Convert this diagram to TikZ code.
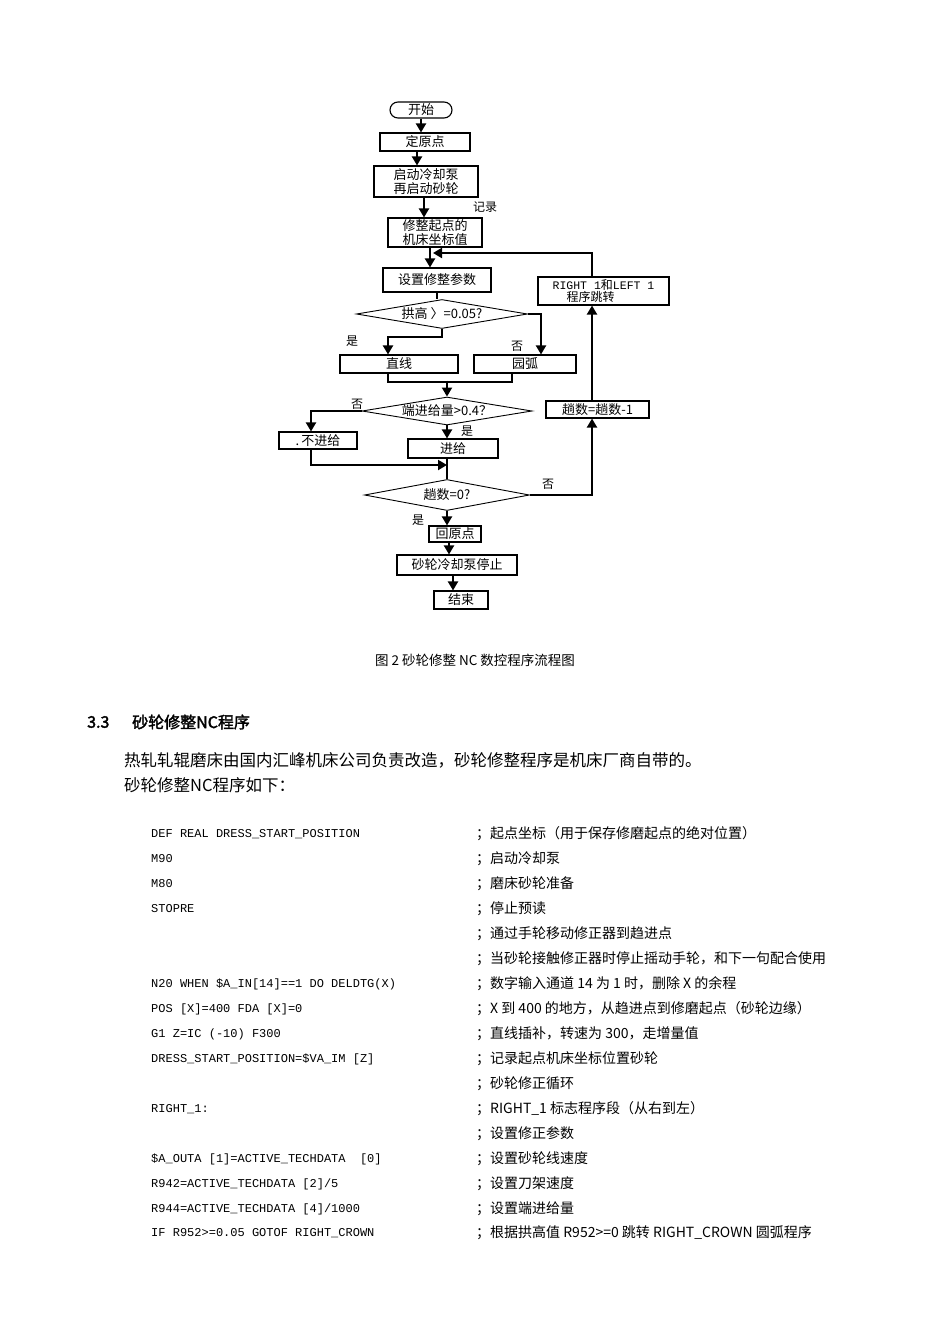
\documentclass[tikz,border=0pt]{standalone}
\usepackage{fontspec}
\setmainfont{Liberation Serif}
\setmonofont{Liberation Mono}
\newfontfamily\cjk{Noto Sans CJK SC}
\newfontfamily\cjkbold[FakeBold=2]{Noto Sans CJK SC}
\usetikzlibrary{arrows.meta,shapes.geometric}

\begin{document}
\begin{tikzpicture}[
    x=1pt, y=-1pt,
    box/.style={draw, line width=1.1pt, inner sep=0pt, align=center, font=\cjk\fontsize{13}{13.5}\selectfont},
    dia/.style={draw, diamond, aspect=6, inner sep=0pt, line width=0.9pt, font=\cjk\fontsize{13}{13}\selectfont},
    flow/.style={line width=2pt, -{Triangle[length=9pt,width=10pt]}},
    link/.style={line width=2pt},
    yn/.style={font=\cjk\fontsize{12}{12}\selectfont},
    code/.style={anchor=west, inner sep=0pt, font=\ttfamily\fontsize{12}{12}\selectfont},
    note/.style={anchor=west, inner sep=0pt, font=\cjk\fontsize{14}{14}\selectfont}
  ]
  \useasboundingbox[fill=white] (0,0) rectangle (950,1344);

  % Flow chart boxes
  \node[box, minimum width=62pt, minimum height=16pt, rounded corners=8pt] (start) at (421,110) {开始};
  \node[box, minimum width=90pt, minimum height=18pt] (origin) at (425,142) {定原点};
  \node[box, minimum width=104pt, minimum height=31pt] (pump) at (426,181.5) {启动冷却泵\\再启动砂轮};
  \node[box, minimum width=94pt, minimum height=29pt] (record) at (435,232.5) {修整起点的\\机床坐标值};
  \node[box, minimum width=108pt, minimum height=24pt] (params) at (437,280) {设置修整参数};
  \node[dia, minimum width=171pt, minimum height=29pt] (crown) at (442,314) {拱高 〉=0.05?};
  \node[box, minimum width=118pt, minimum height=18pt] (straight) at (399,364) {直线};
  \node[box, minimum width=102pt, minimum height=18pt] (arcbox) at (525,364) {园弧};
  \node[dia, minimum width=170pt, minimum height=28pt] (feedq) at (447,411) {端进给量>0.4？};
  \node[box, minimum width=78pt, minimum height=17pt] (nofeed) at (318,440.5) {.\,不进给};
  \node[box, minimum width=90pt, minimum height=19pt] (feed) at (453,448.5) {进给};
  \node[dia, minimum width=165pt, minimum height=31pt] (zeroq) at (447,495) {趟数=0?};
  \node[box, minimum width=103pt, minimum height=17pt] (dec) at (597.5,409.5) {趟数=趟数-1};
  \node[box, minimum width=131pt, minimum height=28pt, align=left, font=\cjk\fontsize{12}{12.5}\selectfont] (jump) at (603.5,291)
    {{\ttfamily\fontsize{11.5}{12}\selectfont RIGHT 1}和{\ttfamily\fontsize{11.5}{12}\selectfont LEFT 1}\\\hspace*{14pt}程序跳转};
  \node[box, minimum width=52pt, minimum height=16pt] (home) at (455,534) {回原点};
  \node[box, minimum width=120pt, minimum height=20pt] (stop) at (457,565) {砂轮冷却泵停止};
  \node[box, minimum width=54pt, minimum height=18pt] (finish) at (461,600) {结束};
  \coordinate (join) at (447,465);
  \coordinate (loop) at (433,253);

  % Connectors
  \draw[flow] (start.south) -- (start.south |- origin.north);
  \draw[flow] ([xshift=-8pt]origin.south) -- ([xshift=-8pt]origin.south |- pump.north);
  \draw[flow] ([xshift=-2pt]pump.south) -- ([xshift=-2pt]pump.south |- record.north);
  \draw[flow] ([xshift=-5pt]record.south) -- ([xshift=-5pt]record.south |- params.north);
  \draw[link] (params.south) -- (params.south |- crown.north);
  \draw[flow] (crown.south) -- ++(0,8) -| ([xshift=-11pt]straight.north);
  \draw[flow] (crown.east) -| ([xshift=16pt]arcbox.north);
  \draw[link] ([xshift=-11pt]straight.south) -- ++(0,8) -| ([xshift=-13pt]arcbox.south);
  \draw[flow] ([yshift=16pt]feedq.north) -- (feedq.north);
  \draw[flow] (feedq.west) -| ([xshift=-7pt]nofeed.north);
  \draw[flow] (feedq.south) -- (feedq.south |- feed.north);
  \draw[flow] ([xshift=-7pt]nofeed.south) |- (join);
  \draw[link] (feedq.south |- feed.south) -- (zeroq.north);
  \draw[flow] (zeroq.east) -| ([xshift=-5.5pt]dec.south);
  \draw[flow] ([xshift=-5.5pt]dec.north) -- ([xshift=-5.5pt]dec.north |- jump.south);
  \draw[flow] ([xshift=-11.5pt]jump.north) |- (loop);
  \draw[flow] (zeroq.south) -- (zeroq.south |- home.north);
  \draw[flow] ([xshift=-6pt]home.south) -- ([xshift=-6pt]home.south |- stop.north);
  \draw[flow] ([xshift=-4pt]stop.south) -- ([xshift=-4pt]stop.south |- finish.north);

  % Branch labels
  \node[yn] (lrec) at (485,207) {记录};
  \node[yn] (cyes) at (352,341) {是};
  \node[yn] (cno) at (517,346) {否};
  \node[yn] (fno) at (357,404) {否};
  \node[yn] (fyes) at (467,431) {是};
  \node[yn] (zno) at (548,484) {否};
  \node[yn] (zyes) at (418,520) {是};

  % Caption and text
  \node[font=\cjk\fontsize{13.5}{13.5}\selectfont] (caption) at (475,660) {图 2 砂轮修整 NC 数控程序流程图};
  \node[anchor=west, inner sep=0pt, font=\cjkbold\fontsize{16}{16}\selectfont] (secnum) at (87,722) {3.3};
  \node[anchor=west, inner sep=0pt, font=\cjkbold\fontsize{16}{16}\selectfont] (sectitle) at (132,722) {砂轮修整NC程序};
  \node[anchor=west, inner sep=0pt, font=\cjk\fontsize{16.5}{16.5}\selectfont] (para1) at (124,760)
    {热轧轧辊磨床由国内汇峰机床公司负责改造，砂轮修整程序是机床厂商自带的。};
  \node[anchor=west, inner sep=0pt, font=\cjk\fontsize{16.5}{16.5}\selectfont] (para2) at (124,785)
    {砂轮修整NC程序如下：};

  % Program listing
  \node[code] (c1) at (151,834) {DEF REAL DRESS\_START\_POSITION};
  \node[note] (n1) at (476,834) {；起点坐标（用于保存修磨起点的绝对位置）};
  \node[code] (c2) at (151,859) {M90};
  \node[note] (n2) at (476,859) {；启动冷却泵};
  \node[code] (c3) at (151,884) {M80};
  \node[note] (n3) at (476,884) {；磨床砂轮准备};
  \node[code] (c4) at (151,909) {STOPRE};
  \node[note] (n4) at (476,909) {；停止预读};
  \node[note] (n5) at (476,934) {；通过手轮移动修正器到趋进点};
  \node[note] (n6) at (476,959) {；当砂轮接触修正器时停止摇动手轮，和下一句配合使用};
  \node[code] (c7) at (151,984) {N20 WHEN \$A\_IN[14]==1 DO DELDTG(X)};
  \node[note] (n7) at (476,984) {；数字输入通道 14 为 1 时，删除 X 的余程};
  \node[code] (c8) at (151,1009) {POS [X]=400 FDA [X]=0};
  \node[note] (n8) at (476,1009) {；X 到 400 的地方，从趋进点到修磨起点（砂轮边缘）};
  \node[code] (c9) at (151,1034) {G1 Z=IC (-10) F300};
  \node[note] (n9) at (476,1034) {；直线插补，转速为 300，走增量值};
  \node[code] (c10) at (151,1059) {DRESS\_START\_POSITION=\$VA\_IM [Z]};
  \node[note] (n10) at (476,1059) {；记录起点机床坐标位置砂轮};
  \node[note] (n11) at (476,1084) {；砂轮修正循环};
  \node[code] (c12) at (151,1109) {RIGHT\_1:};
  \node[note] (n12) at (476,1109) {；RIGHT\_1 标志程序段（从右到左）};
  \node[note] (n13) at (476,1134) {；设置修正参数};
  \node[code] (c14) at (151,1159) {\$A\_OUTA [1]=ACTIVE\_TECHDATA\ \ [0]};
  \node[note] (n14) at (476,1159) {；设置砂轮线速度};
  \node[code] (c15) at (151,1184) {R942=ACTIVE\_TECHDATA [2]/5};
  \node[note] (n15) at (476,1184) {；设置刀架速度};
  \node[code] (c16) at (151,1209) {R944=ACTIVE\_TECHDATA [4]/1000};
  \node[note] (n16) at (476,1209) {；设置端进给量};
  \node[code] (c17) at (151,1233) {IF R952>=0.05 GOTOF RIGHT\_CROWN};
  \node[note] (n17) at (476,1233) {；根据拱高值 R952>=0 跳转 RIGHT\_CROWN 圆弧程序};
\end{tikzpicture}
\end{document}
